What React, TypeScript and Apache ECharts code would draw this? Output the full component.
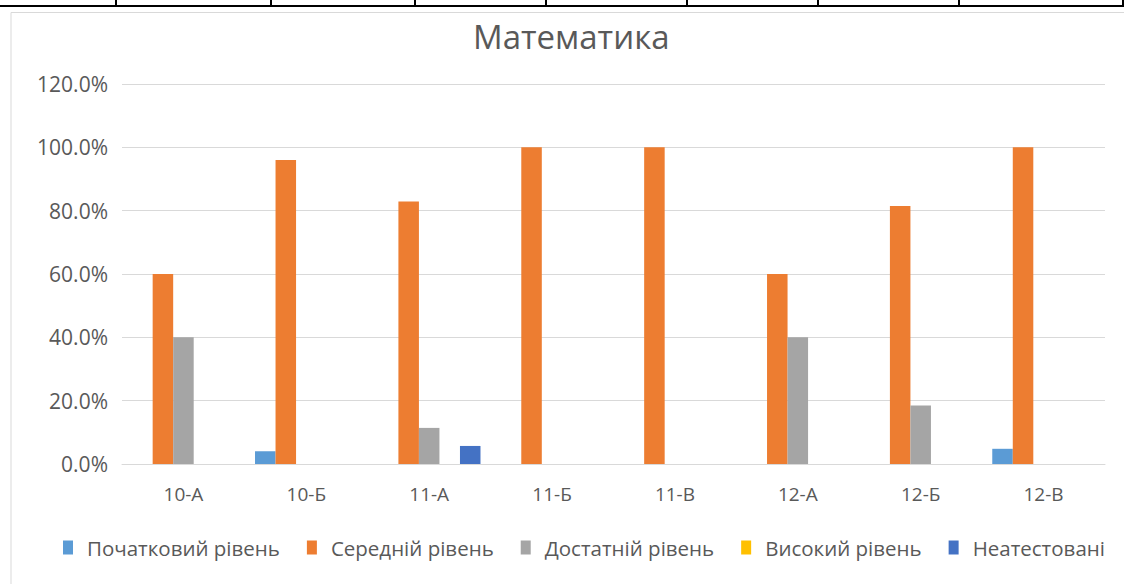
import React, { useEffect, useRef } from "react";
import * as echarts from "echarts";

const categories = ["10-А", "10-Б", "11-А", "11-Б", "11-В", "12-А", "12-Б", "12-В"];
const seriesNames = ["Початковий рівень", "Середній рівень", "Достатній рівень", "Високий рівень", "Неатестовані"];
const pochatkovyi = [0, 4.0, 0, 0, 0, 0, 0, 4.8];
const serednii = [60.0, 96.0, 82.9, 100.0, 100.0, 60.0, 81.5, 100.0];
const dostatnii = [40.0, 0, 11.4, 0, 0, 40.0, 18.5, 0];
const vysokyi = [0, 0, 0, 0, 0, 0, 0, 0];
const neatestovani = [0, 0, 5.7, 0, 0, 0, 0, 0];
const colors = ["#5B9BD5", "#ED7D31", "#A5A5A5", "#FFC000", "#4472C4"];
const tableColumnX = [116, 271, 415, 546, 687, 818, 959, 1123];

const FONT = "'Open Sans', 'Noto Sans', sans-serif";

export default function App() {
  const ref = useRef<HTMLDivElement>(null);
  useEffect(() => {
    if (!ref.current) return;
    const chart = echarts.init(ref.current, undefined, { renderer: "svg" });
    const dataSets = [pochatkovyi, serednii, dostatnii, vysokyi, neatestovani];
    const graphics: any[] = [
      {
        type: "rect",
        silent: true,
        shape: { x: 11, y: 12.5, width: 1300, height: 700 },
        style: { fill: "#fff", stroke: "#D9D9D9", lineWidth: 1 },
        z: -10,
      },
      {
        type: "line",
        silent: true,
        shape: { x1: 0, y1: 6, x2: 1124, y2: 6 },
        style: { stroke: "#000", lineWidth: 2 },
      },
      ...tableColumnX.map((x) => ({
        type: "line",
        silent: true,
        shape: { x1: x, y1: 0, x2: x, y2: 6 },
        style: { stroke: "#000", lineWidth: 2 },
      })),
    ];
    chart.setOption({
      animation: false,
      backgroundColor: "#fff",
      color: colors,
      title: {
        text: "Математика",
        left: 468,
        top: 15,
        textStyle: { fontFamily: FONT, fontSize: 33, fontWeight: "normal", color: "#595959" },
      },
      graphic: graphics,
      grid: { left: 122, right: 19, top: 84, bottom: 120, containLabel: false },
      legend: {
        bottom: 26,
        left: 63,
        padding: 0,
        itemWidth: 10,
        itemHeight: 14,
        itemGap: 27,
        icon: "rect",
        textStyle: { fontFamily: FONT, fontSize: 20.5, color: "#595959", padding: [0, 0, 0, 9] },
        data: seriesNames,
      },
      xAxis: {
        type: "category",
        data: categories,
        axisLine: { show: true, lineStyle: { color: "#D9D9D9" } },
        axisTick: { show: false },
        axisLabel: { color: "#595959", fontFamily: FONT, fontSize: 19, margin: 20 },
      },
      yAxis: {
        type: "value",
        min: 0,
        max: 120,
        interval: 20,
        axisLine: { show: false },
        axisTick: { show: false },
        splitLine: { lineStyle: { color: "#D9D9D9" } },
        axisLabel: {
          color: "#595959",
          fontFamily: FONT,
          fontSize: 21,
          margin: 14,
          formatter: (v: number) => v.toFixed(1) + "%",
        },
      },
      series: seriesNames.map((name, i) => ({
        name,
        type: "bar",
        data: dataSets[i],
        barGap: "0%",
        barCategoryGap: "16.5%",
      })),
    });
    return () => chart.dispose();
  }, []);
  return (
    <div
      ref={ref}
      style={{ position: "fixed", left: 0, top: 0, width: 1124, height: 584, background: "#fff" }}
    />
  );
}
